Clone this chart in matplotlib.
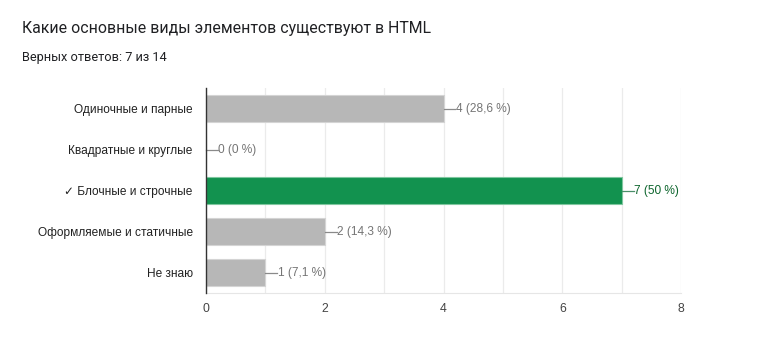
import matplotlib.pyplot as plt
import numpy as np

plt.rcParams['font.family'] = ['Liberation Sans', 'DejaVu Sans']

# Answers and counts
answers = ["Одиночные и парные", "Квадратные и круглые", "✓ Блочные и строчные",
           "Оформляемые и статичные", "Не знаю"]
counts = [4, 0, 7, 2, 1]
labels = ["4 (28,6 %)", "0 (0 %)", "7 (50 %)", "2 (14,3 %)", "1 (7,1 %)"]
correct = 2

gray = "#b7b7b7"
green = "#12924f"

fig = plt.figure(figsize=(7.65, 3.52), dpi=100)
ax = fig.add_axes([0.2693, 0.1676, 0.6209, 0.5824])

y = np.arange(len(answers))
colors = [green if i == correct else gray for i in y]
edges = ["#7fc79f" if i == correct else "#d4d4d4" for i in y]
ax.barh(y, counts, height=0.64, color=colors, edgecolor=edges, linewidth=0.8, zorder=3)

for i, (c, lab) in enumerate(zip(counts, labels)):
    tc = "#0d652d" if i == correct else "#757575"
    ax.plot([c, c + 0.2], [i, i], color="#8a8a8a" if i != correct else "#4a8f69",
            lw=0.9, zorder=4, clip_on=False)
    ax.text(c + 0.21, i, lab, va="center", ha="left", fontsize=8.6, color=tc)

ax.set_xlim(0, 8)
ax.set_ylim(4.5, -0.5)
ax.set_xticks([0, 2, 4, 6, 8])
ax.set_xticks([1, 3, 5, 7], minor=True)
ax.set_yticks(y)
ax.set_yticklabels(answers, fontsize=8.6, color="#222222")
ax.tick_params(axis="x", labelsize=8.8, labelcolor="#444444", length=0, pad=7, which="both")
ax.tick_params(axis="y", length=0, pad=9.5)
ax.grid(axis="x", which="both", color="#ebebeb", lw=0.9, zorder=0)

for s in ["top", "right"]:
    ax.spines[s].set_visible(False)
ax.spines["bottom"].set_color("#e6e6e6")
ax.spines["left"].set_color("#333333")
ax.spines["left"].set_linewidth(1)
ax.spines["left"].set_zorder(5)

fig.text(22 / 765, 1 - 28 / 352, "Какие основные виды элементов существуют в HTML",
         fontsize=11.4, color="#202124", va="center", ha="left", family=["Roboto", "DejaVu Sans"])
fig.text(22 / 765, 1 - 57 / 352, "Верных ответов: 7 из 14",
         fontsize=9.2, color="#202124", va="center", ha="left", family=["Roboto", "DejaVu Sans"])

fig.savefig("out.png", dpi=100)
